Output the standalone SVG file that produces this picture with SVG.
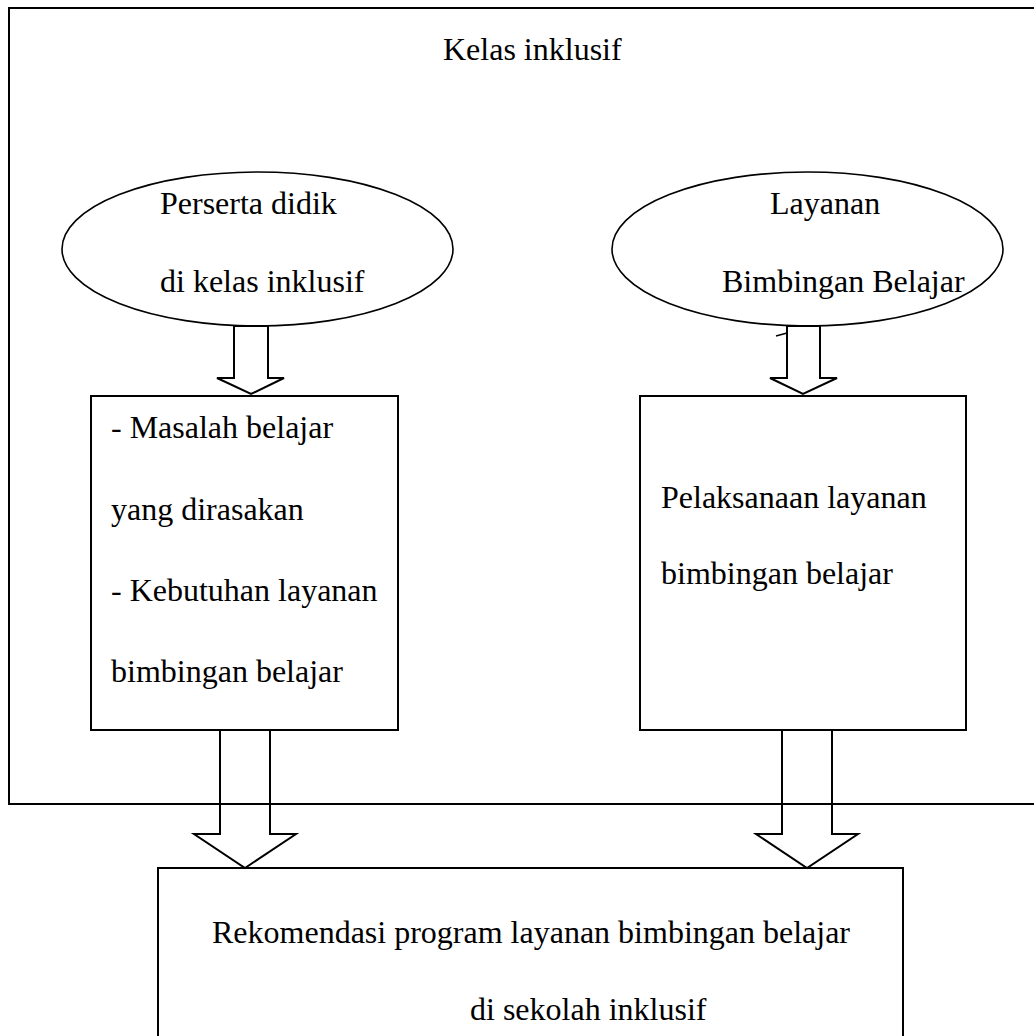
<svg xmlns="http://www.w3.org/2000/svg" width="1034" height="1036" viewBox="0 0 1034 1036">
<style>
.t{font-family:"Liberation Serif","Times New Roman",serif;font-size:32px;fill:#000}
.box{fill:none;stroke:#000;stroke-width:2}
.ell{fill:none;stroke:#000;stroke-width:1.6}
.arr{fill:none;stroke:#000;stroke-width:2;stroke-linejoin:miter}
</style>
<rect width="1034" height="1036" fill="#fff"/>
<g id="frame">
<path class="box" d="M1040 8 H9 V804 H1040"/>
<text class="t" x="443" y="60">Kelas inklusif</text>
</g>
<g id="node-peserta">
<ellipse class="ell" cx="257.5" cy="249" rx="195.5" ry="77"/>
<text class="t" x="160" y="214">Perserta didik</text>
<text class="t" x="160" y="292">di kelas inklusif</text>
</g>
<g id="node-layanan">
<ellipse class="ell" cx="807.5" cy="249" rx="195.5" ry="77"/>
<text class="t" x="770" y="214">Layanan</text>
<text class="t" x="722" y="292">Bimbingan Belajar</text>
</g>
<g id="node-masalah">
<rect class="box" x="91" y="396" width="307" height="334"/>
<text class="t" x="111" y="438">- Masalah belajar</text>
<text class="t" x="111" y="520">yang dirasakan</text>
<text class="t" x="111" y="601">- Kebutuhan layanan</text>
<text class="t" x="111" y="682">bimbingan belajar</text>
</g>
<g id="node-pelaksanaan">
<rect class="box" x="640" y="396" width="326" height="334"/>
<text class="t" x="661" y="508">Pelaksanaan layanan</text>
<text class="t" x="661" y="584">bimbingan belajar</text>
</g>
<g id="node-rekomendasi">
<rect class="box" x="158" y="868" width="745" height="180"/>
<text class="t" x="212" y="943">Rekomendasi program layanan bimbingan belajar</text>
<text class="t" x="470" y="1020">di sekolah inklusif</text>
</g>
<g id="connectors">
<polygon class="arr" points="234,326 268,326 268,378 284,378 251,394 217,378 234,378"/>
<polygon class="arr" points="787,326 820,326 820,378 837,378 803,394 770,378 787,378"/>
<line x1="776" y1="336" x2="787" y2="333" stroke="#000" stroke-width="1.5"/>
<polygon class="arr" points="220,730 270,730 270,834 296,834 245,868 194,834 220,834"/>
<polygon class="arr" points="782,730 832,730 832,834 858,834 807,868 756,834 782,834"/>
</g>
</svg>
